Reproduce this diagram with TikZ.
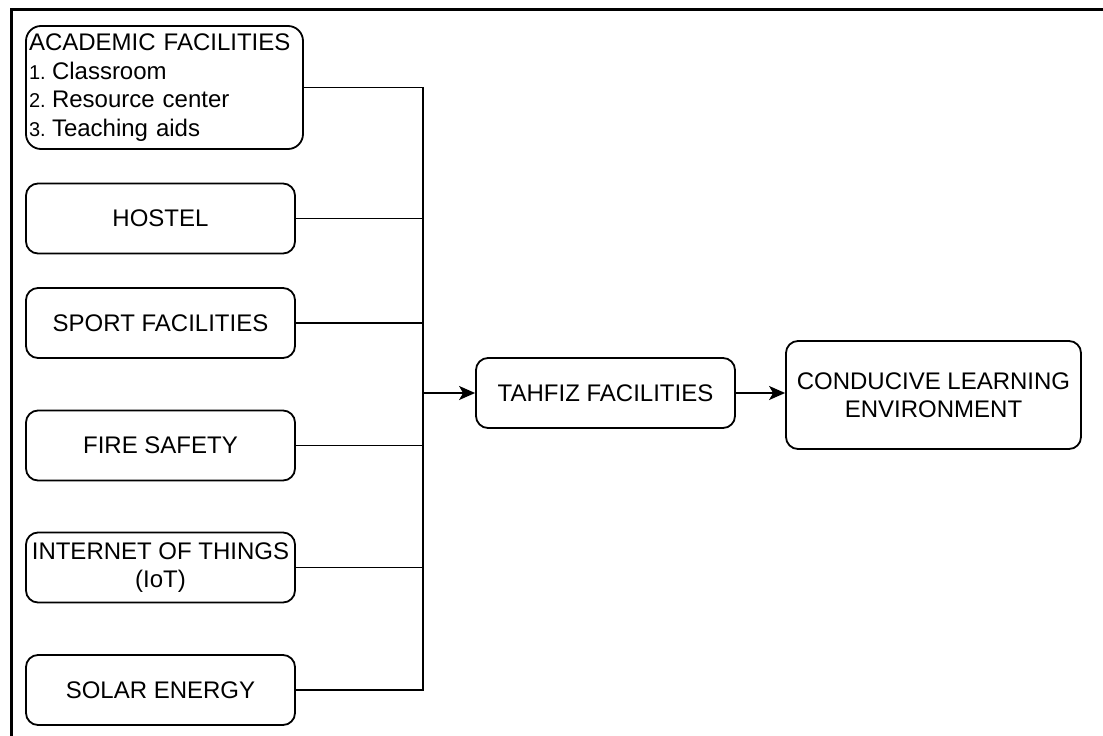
\documentclass[tikz,border=0pt]{standalone}
\usepackage{fontspec}
\setmainfont{Liberation Sans}
\usetikzlibrary{arrows.meta}
% list item: small number in a fixed-width slot, then the item text
\newcommand{\listitem}[2]{\makebox[23pt][l]{\fontsize{20}{22}\selectfont #1}#2}
\begin{document}
\begin{tikzpicture}[x=1pt,y=-1pt,
  box/.style={draw=black, line width=1.8pt, rounded corners=12pt, inner sep=2pt,
    font=\fontsize{24}{27.6}\selectfont, align=center},
  sidebox/.style={box, minimum width=269pt, minimum height=70pt},
  link/.style={line width=1.8pt, line cap=rect},
  arrowlink/.style={line width=1.8pt, -{Stealth[length=16pt,width=14pt,inset=4pt]}}]
  \useasboundingbox (0,0) rectangle (1103,736);

  % outer frame: top and left edges only
  \draw[line width=3pt] (1103,9.5) -- (11,9.5) -- (11,736);

  % input boxes
  \node[box, rounded corners=15pt, minimum width=277pt, minimum height=123pt,
        text width=271pt, align=left, font=\fontsize{24}{28.5}\selectfont]
        (acad) at (164.5,87.5)
        {ACADEMIC FACILITIES\\\listitem{1.}{Classroom}\\\listitem{2.}{Resource center}\\\listitem{3.}{Teaching aids}};
  \node[sidebox] (hostel) at (160.5,218.5) {HOSTEL};
  \node[sidebox] (sport)  at (160.5,323)   {SPORT FACILITIES};
  \node[sidebox] (fire)   at (160.5,445.5) {FIRE SAFETY};
  \node[sidebox] (iot)    at (160.5,567.5) {INTERNET OF THINGS\\(IoT)};
  \node[sidebox] (solar)  at (160.5,690)   {SOLAR ENERGY};

  % central and result boxes
  \node[box, minimum width=259pt, minimum height=70pt] (tahfiz) at (605.5,393)
        {TAHFIZ FACILITIES};
  \node[box, minimum width=295pt, minimum height=108pt] (cle) at (933.5,395)
        {CONDUCIVE LEARNING\\ENVIRONMENT};

  % collecting bus
  \coordinate (bustop) at (423,0);
  \draw[link] (acad.east) -- (acad.east -| bustop) -- (solar.east -| bustop) -- (solar.east);
  \foreach \n in {hostel,sport,fire,iot}
    \draw[link] (\n.east) -- (\n.east -| bustop);

  % arrows
  \draw[arrowlink] (tahfiz.west -| bustop) -- (tahfiz.west);
  \draw[arrowlink] (tahfiz.east) -- (tahfiz.east -| cle.west);
\end{tikzpicture}
\end{document}
